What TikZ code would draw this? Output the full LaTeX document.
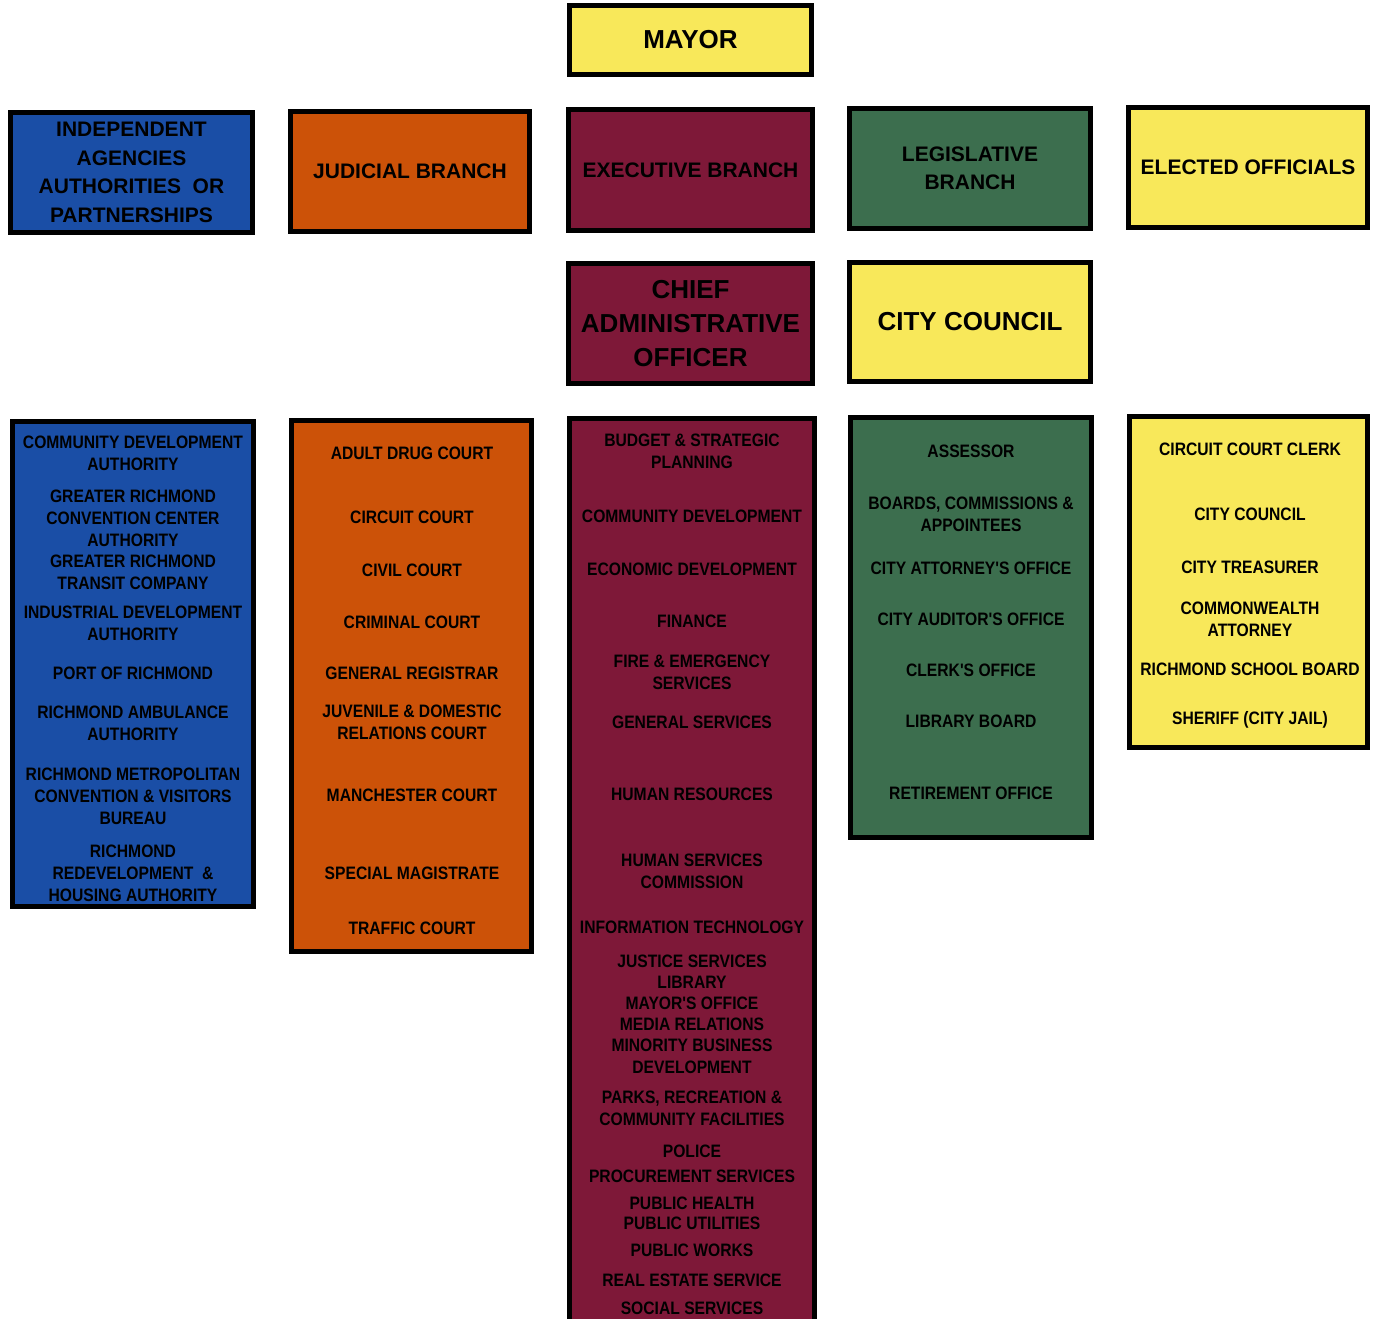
\documentclass[tikz,border=0pt]{standalone}
\usepackage{fontspec}
\setmainfont{Liberation Sans}
\newfontfamily\narrowfont[FakeStretch=0.87]{Liberation Sans}
\definecolor{cblue}{RGB}{26,78,166}
\definecolor{corange}{RGB}{204,82,8}
\definecolor{cmaroon}{RGB}{126,24,56}
\definecolor{cgreen}{RGB}{60,110,78}
\definecolor{cyellow}{RGB}{248,232,90}
\begin{document}
\begin{tikzpicture}[x=1pt,y=-1pt,
  box/.style={draw=black, line width=5pt, inner sep=0pt, align=center, text=black},
  hdr/.style={font=\bfseries\fontsize{21}{28.5}\selectfont},
  big/.style={font=\bfseries\fontsize{26}{34}\selectfont},
  item/.style={font=\narrowfont\bfseries\fontsize{18}{22}\selectfont, align=center, inner sep=0pt, text=black}]
\useasboundingbox (0,0) rectangle (1376,1319);
\clip (0,0) rectangle (1376,1319);
\fill[white] (0,0) rectangle (1376,1319);
% top boxes
\node[box, big, fill=cyellow, minimum width=242pt, minimum height=69pt] (mayor) at (690.5,40) {MAYOR};
\node[box, hdr, fill=cblue, minimum width=242pt, minimum height=120pt] (indep) at (131.5,172.5) {INDEPENDENT\\AGENCIES\\AUTHORITIES\ \ OR\\PARTNERSHIPS};
\node[box, hdr, fill=corange, minimum width=239pt, minimum height=120pt] (jud) at (410,171.5) {JUDICIAL BRANCH};
\node[box, hdr, fill=cmaroon, minimum width=244pt, minimum height=121pt] (exec) at (690.5,170) {EXECUTIVE BRANCH};
\node[box, hdr, fill=cgreen, minimum width=241pt, minimum height=120pt] (leg) at (970,168.5) {LEGISLATIVE\\BRANCH};
\node[box, hdr, fill=cyellow, minimum width=239pt, minimum height=120pt] (elec) at (1248,167.5) {ELECTED OFFICIALS};
\node[box, big, fill=cmaroon, minimum width=244pt, minimum height=120pt] (cao) at (690.5,323.5) {CHIEF\\ADMINISTRATIVE\\OFFICER};
\node[box, big, fill=cyellow, minimum width=241pt, minimum height=119pt] (cc) at (970,322) {CITY COUNCIL};
% list boxes
\node[box, fill=cblue, minimum width=241pt, minimum height=485pt] (indepL) at (133,664) {};
\node[box, fill=corange, minimum width=240pt, minimum height=531pt] (judL) at (411.5,686) {};
\node[box, fill=cmaroon, minimum width=245pt, minimum height=909pt] (execL) at (692,873) {};
\node[box, fill=cgreen, minimum width=241pt, minimum height=420pt] (legL) at (971,627.5) {};
\node[box, fill=cyellow, minimum width=238pt, minimum height=331pt] (elecL) at (1248.5,582) {};
% independent items
\node[item] (i1) at (133,453) {COMMUNITY DEVELOPMENT\\AUTHORITY};
\node[item] (i2) at (133,518) {GREATER RICHMOND\\CONVENTION CENTER\\AUTHORITY};
\node[item] (i3) at (133,572) {GREATER RICHMOND\\TRANSIT COMPANY};
\node[item] (i4) at (133,623) {INDUSTRIAL DEVELOPMENT\\AUTHORITY};
\node[item] (i5) at (133,673) {PORT OF RICHMOND};
\node[item] (i6) at (133,723) {RICHMOND AMBULANCE\\AUTHORITY};
\node[item] (i7) at (133,796) {RICHMOND METROPOLITAN\\CONVENTION \& VISITORS\\BUREAU};
\node[item] (i8) at (133,873) {RICHMOND\\REDEVELOPMENT\ \ \&\\HOUSING AUTHORITY};
% judicial items
\node[item] (j1) at (412,453) {ADULT DRUG COURT};
\node[item] (j2) at (412,517) {CIRCUIT COURT};
\node[item] (j3) at (412,570) {CIVIL COURT};
\node[item] (j4) at (412,622) {CRIMINAL COURT};
\node[item] (j5) at (412,673) {GENERAL REGISTRAR};
\node[item] (j6) at (412,722) {JUVENILE \& DOMESTIC\\RELATIONS COURT};
\node[item] (j7) at (412,795) {MANCHESTER COURT};
\node[item] (j8) at (412,873) {SPECIAL MAGISTRATE};
\node[item] (j9) at (412,928) {TRAFFIC COURT};
% executive items
\node[item] (e1) at (692,451) {BUDGET \& STRATEGIC\\PLANNING};
\node[item] (e2) at (692,516) {COMMUNITY DEVELOPMENT};
\node[item] (e3) at (692,569) {ECONOMIC DEVELOPMENT};
\node[item] (e4) at (692,621) {FINANCE};
\node[item] (e5) at (692,672) {FIRE \& EMERGENCY\\SERVICES};
\node[item] (e6) at (692,722) {GENERAL SERVICES};
\node[item] (e7) at (692,794) {HUMAN RESOURCES};
\node[item] (e8) at (692,871) {HUMAN SERVICES\\COMMISSION};
\node[item] (e9) at (692,927) {INFORMATION TECHNOLOGY};
\node[item] (e10) at (692,961) {JUSTICE SERVICES};
\node[item] (e11) at (692,982) {LIBRARY};
\node[item] (e12) at (692,1003) {MAYOR'S OFFICE};
\node[item] (e13) at (692,1024) {MEDIA RELATIONS};
\node[item] (e14) at (692,1056) {MINORITY BUSINESS\\DEVELOPMENT};
\node[item] (e15) at (692,1108.5) {PARKS, RECREATION \&\\COMMUNITY FACILITIES};
\node[item] (e16) at (692,1151) {POLICE};
\node[item] (e17) at (692,1176) {PROCUREMENT SERVICES};
\node[item] (e18) at (692,1203) {PUBLIC HEALTH};
\node[item] (e19) at (692,1223) {PUBLIC UTILITIES};
\node[item] (e20) at (692,1250) {PUBLIC WORKS};
\node[item] (e21) at (692,1280) {REAL ESTATE SERVICE};
\node[item] (e22) at (692,1308) {SOCIAL SERVICES};
% legislative items
\node[item] (l1) at (971,451) {ASSESSOR};
\node[item] (l2) at (971,514) {BOARDS, COMMISSIONS \&\\APPOINTEES};
\node[item] (l3) at (971,568) {CITY ATTORNEY'S OFFICE};
\node[item] (l4) at (971,619) {CITY AUDITOR'S OFFICE};
\node[item] (l5) at (971,670) {CLERK'S OFFICE};
\node[item] (l6) at (971,721) {LIBRARY BOARD};
\node[item] (l7) at (971,793) {RETIREMENT OFFICE};
% elected items
\node[item] (o1) at (1250,449) {CIRCUIT COURT CLERK};
\node[item] (o2) at (1250,514) {CITY COUNCIL};
\node[item] (o3) at (1250,567) {CITY TREASURER};
\node[item] (o4) at (1250,619) {COMMONWEALTH\\ATTORNEY};
\node[item] (o5) at (1250,669) {RICHMOND SCHOOL BOARD};
\node[item] (o6) at (1250,720) {SHERIFF (CITY JAIL)};
\end{tikzpicture}
\end{document}
